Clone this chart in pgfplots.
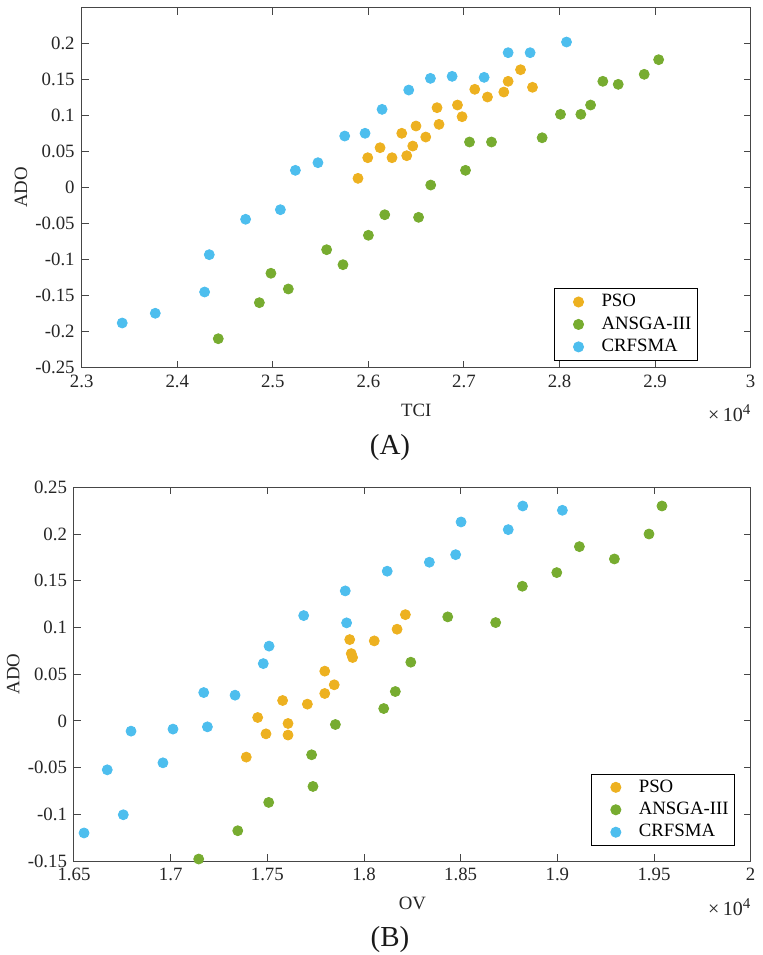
\documentclass[border=0pt]{standalone}
\usepackage{fontspec}
\setmainfont{Liberation Serif}
\usepackage{pgfplots}
\pgfplotsset{compat=1.18}
\definecolor{cP}{RGB}{237,177,32}
\definecolor{cA}{RGB}{119,172,48}
\definecolor{cC}{RGB}{77,190,238}
\definecolor{axc}{RGB}{70,70,70}
\newcommand{\fs}{\fontsize{9.4}{11}\selectfont}
\newcommand{\tenfour}{{\fontsize{10}{11}\selectfont ×\,10\raisebox{0.75ex}{\fontsize{7.5}{8}\selectfont 4}}}
\pgfplotsset{
  myscatter/.style={only marks, mark=*, mark size=2.5pt, color=#1,
    legend image code/.code={\path[draw=none,fill=none] (0pt,0pt) -- (18pt,0pt); \draw[##1,only marks] plot coordinates {(10pt,0pt)};}},
  common/.style={
    scale only axis, anchor=south west, clip=false,
    axis line style={axc, line width=0.5pt},
    tick style={axc, line width=0.5pt},
    major tick length=3.5pt, tick align=inside,
    ticklabel style={font=\fs, text=black!85},
    /pgf/number format/assume math mode=true,
    label style={font=\fs, text=black!85},
    xlabel style={at={([yshift=-24.3pt]axis description cs:0.5,0)}, anchor=base},
    ylabel style={at={([xshift=-30.4pt]axis description cs:0,0.5)}, anchor=center},
    scaled x ticks=false, scaled y ticks=false,
    legend cell align=left,
    legend style={font=\fs, draw=black, line width=0.5pt, inner xsep=2pt, inner ysep=1.8pt,
      row sep=1.5pt, column sep=2.5pt, nodes={inner sep=1pt, anchor=west}},
  }
}
\pgfplotstableread{
x y
25891 0.0127
25993 0.0413
26122 0.0552
26247 0.0413
26349 0.0752
26401 0.0441
26464 0.0575
26498 0.0853
26600 0.0700
26718 0.1107
26739 0.0876
26932 0.1144
26980 0.0982
27113 0.1362
27246 0.1255
27417 0.1324
27462 0.1473
27592 0.1634
27717 0.1390
}\topP
\pgfplotstableread{
x y
24429 -0.2098
24859 -0.1598
24980 -0.1190
25162 -0.1408
25563 -0.0863
25734 -0.1071
26000 -0.0663
26171 -0.0378
26525 -0.0414
26652 0.0034
27016 0.0238
27058 0.0631
27288 0.0631
27818 0.0690
28010 0.1015
28223 0.1015
28325 0.1144
28453 0.1473
28614 0.1431
28886 0.1570
29037 0.1773
}\topA
\pgfplotstableread{
x y
23424 -0.1880
23770 -0.1745
24286 -0.1450
24335 -0.0932
24715 -0.0441
25079 -0.0308
25236 0.0238
25472 0.0344
25752 0.0714
25965 0.0752
26143 0.1084
26422 0.1352
26649 0.1514
26876 0.1542
27211 0.1528
27462 0.1870
27692 0.1870
28073 0.2018
}\topC
\pgfplotstableread{
x y
17391 -0.0388
17450 0.0036
17493 -0.0139
17579 0.0218
17607 -0.0028
17607 -0.0152
17707 0.0179
17797 0.0532
17797 0.0293
17846 0.0386
17926 0.0870
17934 0.0720
17941 0.0678
18053 0.0856
18171 0.0981
18214 0.1137
}\botP
\pgfplotstableread{
x y
17145 -0.1479
17347 -0.1176
17507 -0.0873
17736 -0.0702
17729 -0.0363
17852 -0.0039
18102 0.0132
18162 0.0314
18242 0.0628
18433 0.1113
18681 0.1052
18819 0.1441
18997 0.1587
19114 0.1865
19295 0.1733
19474 0.2000
19541 0.2300
}\botA
\pgfplotstableread{
x y
16552 -0.1200
16672 -0.0524
16755 -0.1005
16795 -0.0110
16960 -0.0449
17012 -0.0088
17171 0.0303
17190 -0.0064
17333 0.0275
17479 0.0613
17509 0.0800
17688 0.1127
17903 0.1391
17910 0.1049
18120 0.1602
18338 0.1698
18474 0.1779
18502 0.2129
18746 0.2047
18821 0.2300
19026 0.2254
}\botC
\begin{document}
\begin{tikzpicture}
\useasboundingbox (0,0) rectangle (381pt,477.5pt);
\begin{axis}[common,
  at={(40.85pt,293.65pt)}, width=334.5pt, height=180.1pt,
  xmin=23000, xmax=30000, ymin=-0.25, ymax=0.2497,
  xtick={23000,24000,25000,26000,27000,28000,29000,30000},
  xticklabels={2.3,2.4,2.5,2.6,2.7,2.8,2.9,3},
  ytick={-0.25,-0.2,-0.15,-0.1,-0.05,0,0.05,0.1,0.15,0.2},
  yticklabels={-0.25,-0.2,-0.15,-0.1,-0.05,0,0.05,0.1,0.15,0.2},
  xlabel={TCI}, ylabel={ADO},
  legend style={at={(0.921,0.0194)}, anchor=south east},
]
\addplot[myscatter=cP] table {\topP};
\addlegendentry{PSO}
\addplot[myscatter=cA] table {\topA};
\addlegendentry{ANSGA-III}
\addplot[myscatter=cC] table {\topC};
\addlegendentry{CRFSMA}
\node[anchor=base east, inner sep=0pt, text=black!85] at ([yshift=-27pt]rel axis cs:1,0) {\tenfour};
\end{axis}
\begin{axis}[common,
  at={(37pt,47pt)}, width=338.35pt, height=186.85pt,
  xmin=16500, xmax=20000, ymin=-0.15, ymax=0.25,
  xtick={16500,17000,17500,18000,18500,19000,19500,20000},
  xticklabels={1.65,1.7,1.75,1.8,1.85,1.9,1.95,2},
  ytick={-0.15,-0.1,-0.05,0,0.05,0.1,0.15,0.2,0.25},
  yticklabels={-0.15,-0.1,-0.05,0,0.05,0.1,0.15,0.2,0.25},
  xlabel={OV}, ylabel={ADO},
  legend style={at={(0.977,0.040)}, anchor=south east},
]
\addplot[myscatter=cP] table {\botP};
\addlegendentry{PSO}
\addplot[myscatter=cA] table {\botA};
\addlegendentry{ANSGA-III}
\addplot[myscatter=cC] table {\botC};
\addlegendentry{CRFSMA}
\node[anchor=base east, inner sep=0pt, text=black!85] at ([yshift=-27pt]rel axis cs:1,0) {\tenfour};
\end{axis}
\node[font=\fontsize{14.5}{16}\selectfont, text=black!90] at (195pt,253.5pt) {(A)};
\node[font=\fontsize{14.5}{16}\selectfont, text=black!90] at (195pt,7.5pt) {(B)};
\end{tikzpicture}
\end{document}
